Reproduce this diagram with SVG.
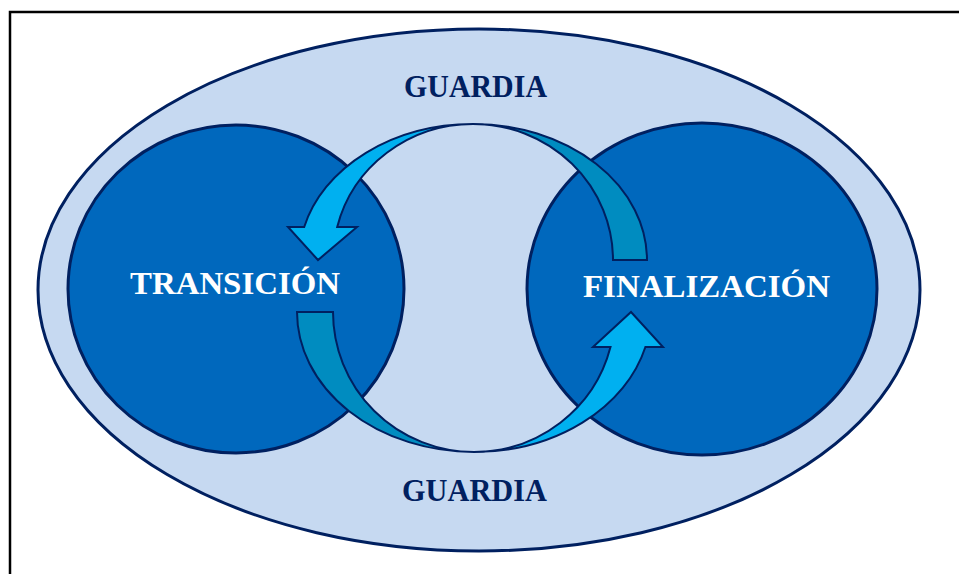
<svg xmlns="http://www.w3.org/2000/svg" width="959" height="574" viewBox="0 0 959 574">
  <style>
    .frame { fill: none; stroke: #000000; stroke-width: 2.5; }
    .outer { fill: #C6D9F1; stroke: #002060; stroke-width: 3; }
    .circle { fill: #0068BD; stroke: #002060; stroke-width: 3; }
    .arrow { stroke: #002060; stroke-width: 2; stroke-linejoin: miter; }
    .light { fill: #00B0F0; }
    .dark { fill: #008CC0; }
    .guard { font-family: "Liberation Serif", "Times New Roman", serif; font-weight: bold; font-size: 31px; fill: #002060; }
    .phase { font-family: "Liberation Serif", "Times New Roman", serif; font-weight: bold; font-size: 31px; fill: #FFFFFF; }
  </style>
  <rect x="0" y="0" width="959" height="574" fill="#FFFFFF"/>
  <path class="frame" d="M 10 574 L 10 12 L 959 12"/>
  <g id="guardia">
    <ellipse class="outer" cx="479" cy="290" rx="441" ry="261"/>
    <text class="guard" x="404" y="97" textLength="143" lengthAdjust="spacingAndGlyphs">GUARDIA</text>
    <text class="guard" x="402" y="501" textLength="145" lengthAdjust="spacingAndGlyphs">GUARDIA</text>
  </g>
  <g id="transicion">
    <ellipse class="circle" cx="236" cy="289" rx="168" ry="164"/>
    <text class="phase" x="130" y="294" textLength="210" lengthAdjust="spacingAndGlyphs">TRANSICIÓN</text>
  </g>
  <g id="finalizacion">
    <ellipse class="circle" cx="702" cy="289" rx="175" ry="166"/>
    <text class="phase" x="583" y="297" textLength="247" lengthAdjust="spacingAndGlyphs">FINALIZACIÓN</text>
  </g>
  <g id="connectors">
    <path class="arrow dark" d="M 473 124 A 174 136 0 0 1 647 260 L 613 260 A 140 136 0 0 0 473 124 Z"/>
    <path class="arrow light" d="M 473 124 A 174 136 0 0 0 304.2 227 L 288 227 L 318 260 L 357 227 L 337.2 227 A 140 136 0 0 1 473 124 Z"/>
    <path class="arrow dark" d="M 297 312 A 177 140 0 0 0 474 452 A 141 140 0 0 1 333 312 Z"/>
    <path class="arrow light" d="M 474 452 A 177 140 0 0 0 645.4 347 L 663 347 L 631 312 L 593 347 L 610.5 347 A 141 140 0 0 1 474 452 Z"/>
  </g>
</svg>
